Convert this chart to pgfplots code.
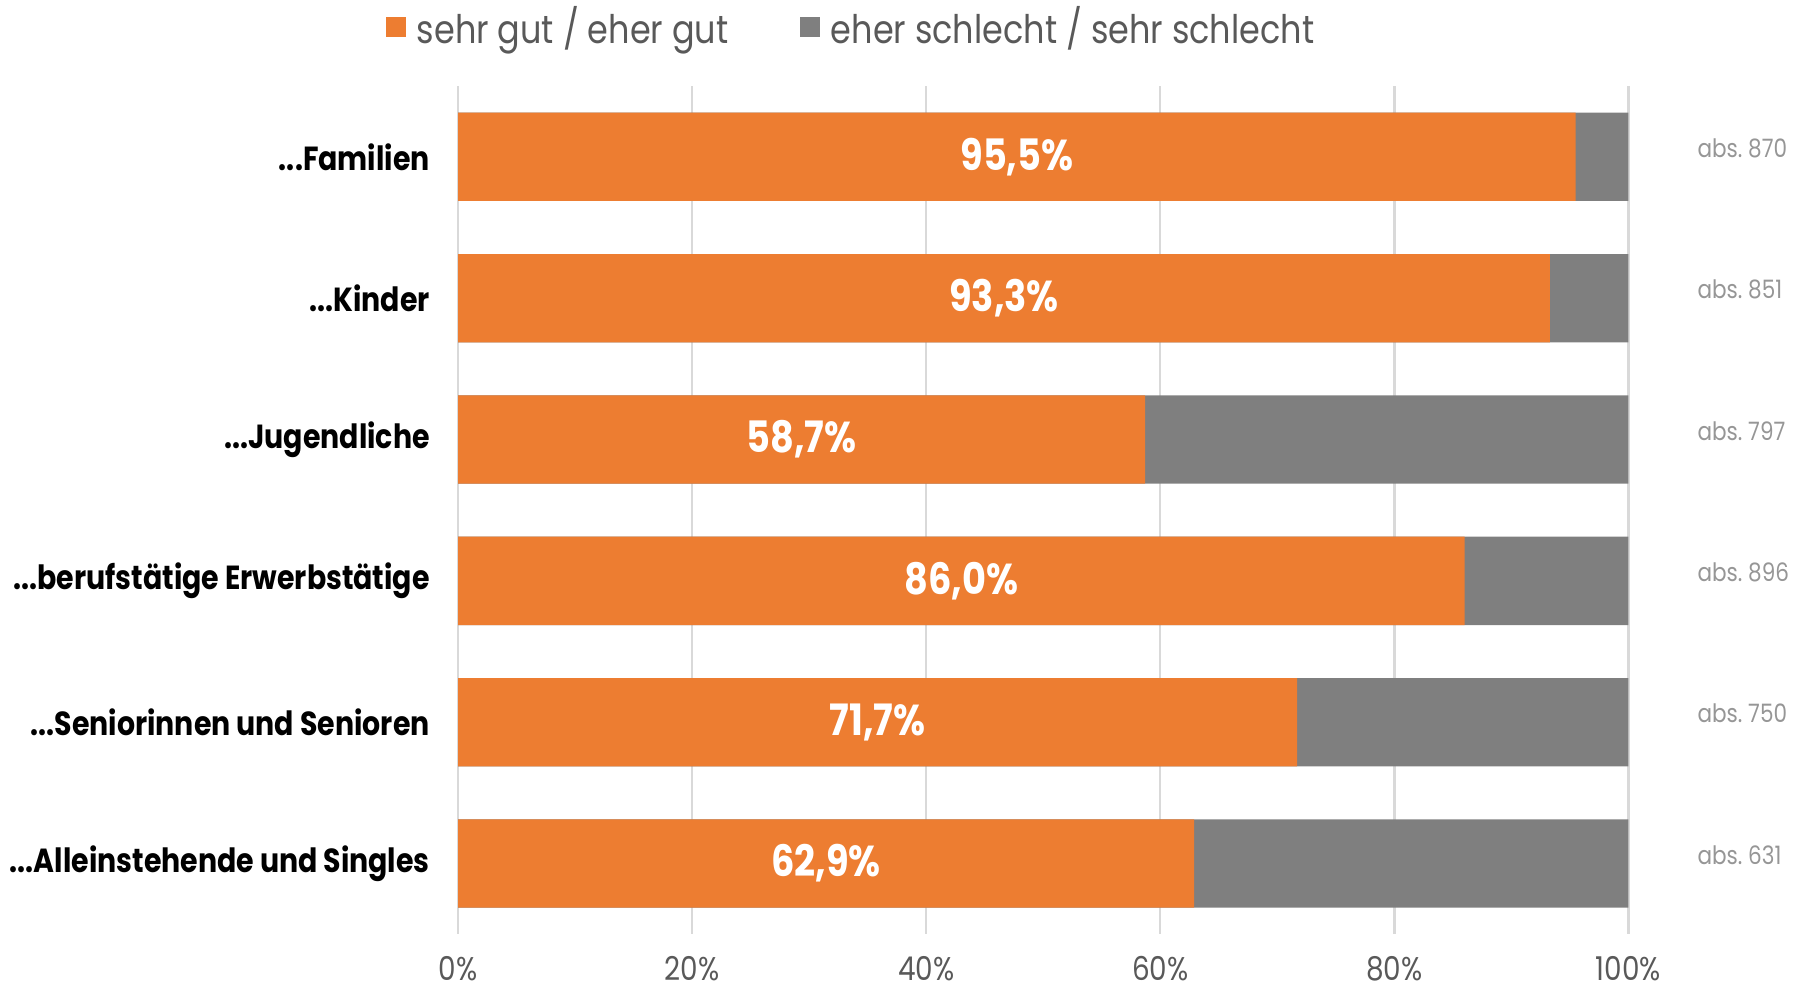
\documentclass[border=0pt]{standalone}
\usepackage{fontspec}
\setmainfont{Poppins}[FakeStretch=0.85]
\usepackage{pgfplots}
\usepackage{pgfplotstable}
\pgfplotsset{compat=1.18}

\definecolor{orng}{HTML}{ED7D31}
\definecolor{grau}{HTML}{7F7F7F}
\definecolor{gridc}{HTML}{D9D9D9}
\definecolor{txtgray}{HTML}{595959}
\definecolor{absgray}{HTML}{969696}

\newcommand{\dd}{...}

\pgfplotstableread{
idx gut  schlecht n
0   95.5 4.5      870
1   93.3 6.7      851
2   58.7 41.3     797
3   86.0 14.0     896
4   71.7 28.3     750
5   62.9 37.1     631
}\daten

\begin{document}
\begin{tikzpicture}
\begin{axis}[
    scale only axis,
    width=392.3pt, height=284.3pt,
    xmin=0, xmax=100,
    ymin=-0.5, ymax=5.5,
    y dir=reverse,
    clip=false,
    axis line style={draw=none},
    tick style={draw=none},
    xmajorgrids,
    grid style={gridc, line width=0.8pt},
    xtick={0,20,...,100},
    xticklabel={\pgfmathprintnumber{\tick}\%},
    xticklabel style={font=\fontsize{11}{13}\selectfont, text=txtgray, yshift=-4pt},
    ytick={0,1,2,3,4,5},
    yticklabels={{\dd Familien},{\dd Kinder},{\dd Jugendliche},{\dd berufstätige Erwerbstätige},{\dd Seniorinnen und Senioren},{\dd Alleinstehende und Singles}},
    yticklabel style={font=\fontsize{11.2}{13}\selectfont\bfseries, text=black, xshift=-6pt},
    /pgf/number format/assume math mode=true,
    legend columns=2,
    reverse legend,
    legend style={at={(-0.062,1.070)}, anchor=west, draw=none, fill=none,
        inner sep=0pt, font=\fontsize{13.2}{15}\selectfont, text=txtgray,
        /tikz/every even column/.append style={column sep=22pt}},
    legend cell align=left,
    legend image code/.code={\fill[#1] (0pt,-3.3pt) rectangle (6.7pt,3.3pt); \path (8.3pt,0pt);},
]
% grey bars to 100 first, orange on top
\addplot[xbar, bar width=29.6pt, bar shift=0pt, fill=grau, draw=none]
    table[x expr=\thisrow{gut}+\thisrow{schlecht}, y=idx] {\daten};
\addplot[xbar, bar width=29.6pt, bar shift=0pt, fill=orng, draw=none]
    table[x=gut, y=idx] {\daten};
% value labels in the middle of the orange part
\addplot[only marks, mark=none, forget plot,
    point meta=explicit,
    nodes near coords={\pgfmathprintnumber[fixed,fixed zerofill,precision=1,use comma]{\pgfplotspointmeta}\%},
    nodes near coords style={anchor=center, text=white, font=\fontsize{14.5}{16}\selectfont\bfseries}]
    table[x expr=\thisrow{gut}/2, y=idx, meta=gut] {\daten};
% abs. counts on the right
\addplot[only marks, mark=none, forget plot,
    point meta=explicit symbolic,
    nodes near coords={abs.~\pgfplotspointmeta},
    nodes near coords style={anchor=west, text=absgray, inner xsep=7pt, xshift=16pt, yshift=2.9pt,
        font=\fontsize{8.5}{10}\selectfont}]
    table[x expr=100, y=idx, meta=n] {\daten};
\legend{eher schlecht / sehr schlecht, sehr gut / eher gut}
\end{axis}
\end{tikzpicture}
\end{document}
